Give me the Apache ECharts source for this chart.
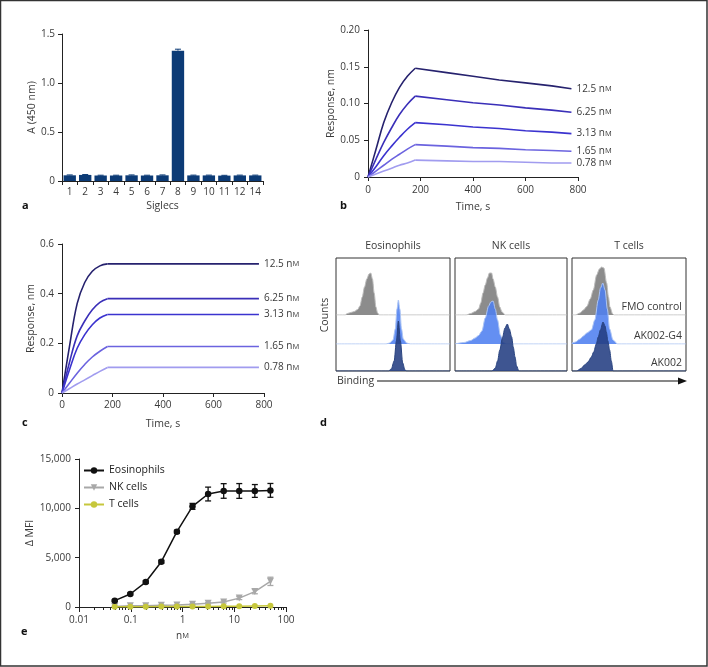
<!DOCTYPE html>
<html>
<head>
<meta charset="utf-8">
<script src="https://cdn.jsdelivr.net/npm/echarts@6/dist/echarts.min.js"></script>
<style>
html,body{margin:0;padding:0;background:#fff;}
#c{width:708px;height:667px;}
</style>
</head>
<body>
<div id="c"></div>
<script>
// ---------- DATA ----------
// Panel a
const siglecCats = ['1','2','3','4','5','6','7','8','9','10','11','12','14'];
const siglecVals = [0.058,0.062,0.056,0.056,0.058,0.056,0.058,1.33,0.057,0.057,0.055,0.057,0.057];
const siglecErr  = [0.004,0.004,0.003,0.003,0.004,0.003,0.004,0.015,0.003,0.003,0.003,0.003,0.003];

// Panel b (response, nm vs time, s)
const concLabels = ['12.5','6.25','3.13','1.65','0.78'];
const timeB = [0,30,60,90,120,150,180,300,400,500,600,700,775];
const respB125 = [0,0.037,0.074,0.101,0.122,0.137,0.148,0.142,0.137,0.132,0.128,0.124,0.120];
const respB625 = [0,0.024,0.047,0.067,0.085,0.099,0.110,0.105,0.101,0.098,0.094,0.091,0.088];
const respB313 = [0,0.014,0.029,0.042,0.054,0.065,0.074,0.071,0.068,0.066,0.063,0.061,0.059];
const respB165 = [0,0.008,0.016,0.024,0.031,0.038,0.044,0.042,0.040,0.039,0.037,0.036,0.035];
const respB078 = [0,0.004,0.008,0.012,0.016,0.019,0.023,0.022,0.021,0.021,0.020,0.019,0.019];

// Panel c
const timeC = [0,30,60,90,120,150,180,780];
const respC125 = [0,0.19,0.36,0.445,0.49,0.512,0.52,0.52];
const respC625 = [0,0.125,0.23,0.29,0.335,0.365,0.38,0.38];
const respC313 = [0,0.095,0.18,0.235,0.275,0.302,0.316,0.316];
const respC165 = [0,0.04,0.08,0.115,0.145,0.168,0.187,0.187];
const respC078 = [0,0.018,0.036,0.053,0.07,0.087,0.103,0.103];
const assocEnd = 180; // end of association phase, s

// Panel d histograms: [binding position (0-100), counts]
const histEosFMO = [[8,0],[10,1.5],[13,2.5],[16,3.5],[19,5.5],[21,9],[23,18],[25,28],[27,36],[29,41],[30.5,42],[32,36],[33.5,22],[35,8],[36.5,2],[38,0]];
const histEosG4  = [[44,0],[47,1],[50,4],[52,15],[53.5,35],[54.7,44],[56,35],[57.5,15],[59,5],[62,1],[65,0]];
const histEosAK  = [[46,0],[48.5,2],[51,10],[53,30],[54.7,50],[56.5,30],[58.5,8],[60.5,1],[62,0]];
const histNKFMO  = [[10,0],[14,1.5],[18,3.5],[21,6],[23,12],[25,22],[27,30],[29,37],[30.7,42],[32.7,42],[34,36],[36,28],[38,18],[40,8],[42,3],[45,0]];
const histNKG4   = [[0,0.5],[8,1.5],[14,3.5],[18,6],[21,8.5],[24,13],[27,26],[30,38],[32,42],[34,43],[36,35],[38,24],[40.5,9],[43,1.5],[46,0]];
const histNKAK   = [[33,0],[36,3],[38,10],[40,21],[42.5,34],[44.6,43],[46.7,47],[48.5,42],[50.6,34],[52,24],[53.6,14],[55,5],[57,0]];
const histTFMO   = [[3,0],[7,2],[10,5],[13,8.5],[16,16],[18.7,25],[21.6,40],[24,46],[26,48],[28,47],[30.4,32],[32,18],[33.3,8],[35.7,1],[37,0]];
const histTG4    = [[0,1],[3,2],[7,5],[10,8],[13,11],[17,14],[20,24],[23,44],[25,56],[27,61],[29,54],[31,35],[33,15],[36,4],[40,0]];
const histTAK    = [[4,0],[8,2.5],[11,6],[14,9],[17,14],[19,19],[21.3,27],[23,34],[24.9,41],[27.2,49],[29,45],[30.1,39],[31.5,30],[33,21],[34.5,10],[36,0]];
const cellTitles = ['Eosinophils','NK cells','T cells'];
const rowLabels = ['FMO control','AK002-G4','AK002'];

// Panel e
const concE = [0.049,0.098,0.195,0.39,0.78,1.56,3.125,6.25,12.5,25,50];
const mfiEos = [640,1320,2530,4590,7630,10200,11450,11760,11760,11760,11820];
const errEos = [80,100,120,150,150,300,700,740,750,650,700];
const mfiNK  = [60,120,130,170,200,270,370,500,900,1560,2600];
const errNK  = [30,30,40,40,50,60,80,100,150,220,420];
const mfiT   = [20,30,30,40,40,50,60,70,80,100,120];
const seriesNamesE = ['Eosinophils','NK cells','T cells'];
const logMajor = [0.01,0.1,1,10,100];
const logMinor = [];
[0.01,0.1,1,10].forEach(d => { for (let k=2;k<=9;k++) logMinor.push(+(d*k).toPrecision(3)); });

// ---------- STYLES ----------
const FONT = 'Open Sans';
const TXT = '#3a3a3a';
const AX = '#222';
const lineColors = ['#26226e','#3a2fb8','#3b33cf','#6b63df','#a19cef'];
const respB = [respB125,respB625,respB313,respB165,respB078];
const respC = [respC125,respC625,respC313,respC165,respC078];

function zip(xs, ys){ return xs.map((x,i)=>[x,ys[i]]); }

const axisLineS = {show:true, lineStyle:{color:AX, width:1}};
const axisTickS = {show:true, length:4, lineStyle:{color:AX, width:1}};
const axisLabelS = {fontSize:10, color:TXT, fontFamily:FONT};
const nameS = {fontSize:10.5, color:TXT, fontFamily:FONT};

const grid = [];
const xAxis = [];
const yAxis = [];
const series = [];

// Panel a
grid.push({left:62, top:34, width:201, height:147});
xAxis.push({gridIndex:0, type:'category', data:siglecCats, boundaryGap:true,
  axisLine:axisLineS, axisTick:{show:true,length:4,alignWithLabel:false,lineStyle:{color:AX}},
  axisLabel:Object.assign({margin:6, interval:0}, axisLabelS),
  name:'Siglecs', nameLocation:'middle', nameGap:20, nameTextStyle:nameS});
yAxis.push({gridIndex:0, type:'value', min:0, max:1.5, interval:0.5,
  axisLine:axisLineS, axisTick:axisTickS, splitLine:{show:false},
  axisLabel:Object.assign({margin:7, formatter:v=> v===0?'0':v.toFixed(1)}, axisLabelS),
  name:'A (450 nm)', nameLocation:'middle', nameGap:24, nameTextStyle:nameS});
series.push({type:'bar', xAxisIndex:0, yAxisIndex:0, data:siglecVals, barWidth:'80%',
  itemStyle:{color:'#0c3b76'}, silent:true});
series.push({type:'custom', xAxisIndex:0, yAxisIndex:0,
  data:siglecVals.map((v,i)=>[i, v, siglecErr[i]]),
  encode:{x:0,y:1}, z:5,
  renderItem:(p, api)=>{
    const i=api.value(0), v=api.value(1), e=api.value(2);
    const t=api.coord([i, v+e]), m=api.coord([i, v]);
    const hw=3;
    return {type:'group', children:[
      {type:'line', shape:{x1:t[0],y1:t[1],x2:m[0],y2:m[1]}, style:{stroke:'#0c3b76', lineWidth:1}},
      {type:'line', shape:{x1:t[0]-hw,y1:t[1],x2:t[0]+hw,y2:t[1]}, style:{stroke:'#0c3b76', lineWidth:1}}
    ]};
  }});

const endLabelS = (lbl)=>({show:true, distance:5,
  formatter:'{a|'+lbl+' n}{b|M}',
  rich:{a:{fontSize:10, color:TXT, fontFamily:FONT}, b:{fontSize:7.5, color:TXT, fontFamily:FONT}}});

// association (smooth) + dissociation (straight) segments
function kineticSeries(times, arr, k, xi, yi, tag){
  const pts = zip(times, arr);
  const assoc = pts.filter(p=>p[0]<=assocEnd);
  const dissoc = pts.filter(p=>p[0]>=assocEnd);
  series.push({type:'line', name:tag+'a'+k, xAxisIndex:xi, yAxisIndex:yi, data:assoc,
    smooth:0.4, symbol:'none', showSymbol:false,
    lineStyle:{color:lineColors[k], width:1.6}, itemStyle:{color:lineColors[k]}, silent:true, animation:false});
  series.push({type:'line', name:tag+'d'+k, xAxisIndex:xi, yAxisIndex:yi, data:dissoc,
    smooth:false, symbol:'none', showSymbol:false,
    lineStyle:{color:lineColors[k], width:1.6, join:'round'}, itemStyle:{color:lineColors[k]},
    endLabel:endLabelS(concLabels[k]), silent:true, animation:false});
}

// Panel b
grid.push({left:368, top:30, width:210, height:147});
xAxis.push({gridIndex:1, type:'value', min:0, max:800, interval:200,
  axisLine:axisLineS, axisTick:axisTickS, splitLine:{show:false},
  axisLabel:Object.assign({margin:8}, axisLabelS),
  name:'Time, s', nameLocation:'middle', nameGap:25, nameTextStyle:nameS});
yAxis.push({gridIndex:1, type:'value', min:0, max:0.2, interval:0.05,
  axisLine:axisLineS, axisTick:axisTickS, splitLine:{show:false},
  axisLabel:Object.assign({margin:8, formatter:v=> v===0?'0':v.toFixed(2)}, axisLabelS),
  name:'Response, nm', nameLocation:'middle', nameGap:24, nameTextStyle:nameS});
respB.forEach((arr, k)=> kineticSeries(timeB, arr, k, 1, 1, 'b'));

// Panel c
grid.push({left:62, top:244, width:202, height:149});
xAxis.push({gridIndex:2, type:'value', min:0, max:800, interval:200,
  axisLine:axisLineS, axisTick:axisTickS, splitLine:{show:false},
  axisLabel:Object.assign({margin:7}, axisLabelS),
  name:'Time, s', nameLocation:'middle', nameGap:26, nameTextStyle:nameS});
yAxis.push({gridIndex:2, type:'value', min:0, max:0.6, interval:0.2,
  axisLine:axisLineS, axisTick:axisTickS, splitLine:{show:false},
  axisLabel:Object.assign({margin:8, formatter:v=> v===0?'0':v.toFixed(1)}, axisLabelS),
  name:'Response, nm', nameLocation:'middle', nameGap:25, nameTextStyle:nameS});
respC.forEach((arr, k)=> kineticSeries(timeC, arr, k, 2, 2, 'c'));

// Panel e
grid.push({left:79, top:459, width:207, height:148});
xAxis.push({gridIndex:3, type:'log', logBase:10, min:0.01, max:100,
  axisLine:axisLineS, axisTick:{show:true,length:5,lineStyle:{color:AX},customValues:logMajor},
  splitLine:{show:false},
  axisLabel:Object.assign({margin:8, customValues:logMajor, formatter:v=>String(v)}, axisLabelS),
  name:'{a|n}{b|M}', nameLocation:'middle', nameGap:24,
  nameTextStyle:{rich:{a:{fontSize:10,color:TXT,fontFamily:FONT},b:{fontSize:7.5,color:TXT,fontFamily:FONT}}}});
xAxis.push({gridIndex:3, type:'log', logBase:10, min:0.01, max:100,
  axisLine:{show:false}, axisTick:{show:true,length:3,lineStyle:{color:AX},customValues:logMinor},
  axisLabel:{show:false}, splitLine:{show:false}, position:'bottom'});
yAxis.push({gridIndex:3, type:'value', min:0, max:15000, interval:5000,
  axisLine:axisLineS, axisTick:axisTickS, splitLine:{show:false},
  axisLabel:Object.assign({margin:8}, axisLabelS),
  name:'Δ MFI', nameLocation:'middle', nameGap:41, nameTextStyle:nameS});
const eX = 3, eY = 3;
function errRender(color){
  return (p, api)=>{
    const x=api.value(0), v=api.value(1), e=api.value(2);
    const t=api.coord([x, v+e]), b=api.coord([x, Math.max(v-e, 1)]);
    const hw=3;
    return {type:'group', children:[
      {type:'line', shape:{x1:t[0],y1:t[1],x2:b[0],y2:b[1]}, style:{stroke:color, lineWidth:1.3}},
      {type:'line', shape:{x1:t[0]-hw,y1:t[1],x2:t[0]+hw,y2:t[1]}, style:{stroke:color, lineWidth:1.3}},
      {type:'line', shape:{x1:b[0]-hw,y1:b[1],x2:b[0]+hw,y2:b[1]}, style:{stroke:color, lineWidth:1.3}}
    ]};
  };
}
series.push({type:'custom', name:'errNK', xAxisIndex:eX, yAxisIndex:eY, z:2,
  data:concE.map((c,i)=>[c, mfiNK[i], errNK[i]]), encode:{x:0,y:1},
  renderItem:errRender('#a8a8a8'), silent:true});
series.push({type:'line', name:seriesNamesE[1], xAxisIndex:eX, yAxisIndex:eY, z:3,
  data:zip(concE, mfiNK), symbol:'triangle', symbolRotate:180, symbolSize:7,
  lineStyle:{color:'#a8a8a8', width:1.5}, itemStyle:{color:'#a8a8a8'}, silent:true, animation:false});
series.push({type:'line', name:seriesNamesE[2], xAxisIndex:eX, yAxisIndex:eY, z:4,
  data:zip(concE, mfiT), symbol:'circle', symbolSize:6,
  lineStyle:{color:'#c6c73c', width:1.5}, itemStyle:{color:'#c6c73c'}, silent:true, animation:false});
series.push({type:'custom', name:'errEos', xAxisIndex:eX, yAxisIndex:eY, z:5,
  data:concE.map((c,i)=>[c, mfiEos[i], errEos[i]]), encode:{x:0,y:1},
  renderItem:errRender('#111'), silent:true});
series.push({type:'line', name:seriesNamesE[0], xAxisIndex:eX, yAxisIndex:eY, z:6,
  data:zip(concE, mfiEos), symbol:'circle', symbolSize:6.5,
  lineStyle:{color:'#111', width:1.5}, itemStyle:{color:'#111'}, silent:true, animation:false});

// Panel d
const boxLeft = [336, 455, 572];
const boxW = [114, 112, 114];
const boxTop = 258;
const rowBase = [315, 344, 371];
const hists = [[histEosFMO, histEosG4, histEosAK],[histNKFMO, histNKG4, histNKAK],[histTFMO, histTG4, histTAK]];
const histFill = ['rgba(128,128,128,0.9)','rgba(78,128,240,0.88)','rgba(35,62,130,0.88)'];
const histLine = ['#bdbdbd','#adc5f3','#2a447f'];
for (let b=0;b<3;b++){
  for (let r=0;r<3;r++){
    const gi = grid.length;
    const h = rowBase[r]-boxTop;
    const g = {left:boxLeft[b], top:boxTop, width:boxW[b], height:h};
    if (r===2){ g.show=true; g.borderColor='#333'; g.borderWidth=1; g.backgroundColor='transparent'; }
    grid.push(g);
    xAxis.push({gridIndex:gi, type:'value', min:0, max:100, show:false});
    yAxis.push({gridIndex:gi, type:'value', min:0, max:h, show:false});
    const xi = xAxis.length-1, yi = yAxis.length-1;
    const d = [[0,0]].concat(hists[b][r], [[100,0]]);
    series.push({type:'line', name:'h'+b+r, xAxisIndex:xi, yAxisIndex:yi, data:d,
      smooth:0.3, smoothMonotone:'x', symbol:'none', showSymbol:false, z:2+r,
      lineStyle:{color:histLine[r], width:1}, areaStyle:{color:histFill[r], opacity:1},
      silent:true, animation:false});
  }
}

// ---------- GRAPHICS ----------
const letter = (t,x,y)=>({type:'text', left:x, top:y, style:{text:t, font:'bold 11px "Open Sans"', fill:'#111'}});
const graphic = [
  {type:'rect', shape:{x:0.5,y:0.5,width:706.5,height:665.5}, style:{fill:'none', stroke:'#333', lineWidth:1.5}, z:-1},
  letter('a',22,200), letter('b',340,200), letter('c',22,417), letter('d',320,417), letter('e',21,626),
  {type:'text', x:325, y:315, rotation:Math.PI/2, style:{text:'Counts', font:'10.5px "Open Sans"', fill:TXT, align:'center', verticalAlign:'middle'}},
  {type:'text', x:337, y:381, style:{text:'Binding', font:'10.5px "Open Sans"', fill:TXT, align:'left', verticalAlign:'middle'}},
  {type:'line', shape:{x1:377,y1:381,x2:680,y2:381}, style:{stroke:'#111', lineWidth:1.2}},
  {type:'polygon', shape:{points:[[678,377.5],[687,381],[678,384.5]]}, style:{fill:'#111'}}
];
cellTitles.forEach((t,i)=>{
  graphic.push({type:'text', x:boxLeft[i]+boxW[i]/2, y:246, style:{text:t, font:'10.5px "Open Sans"', fill:TXT, align:'center', verticalAlign:'middle'}});
});
rowLabels.forEach((t,i)=>{
  graphic.push({type:'text', x:682, y:rowBase[i]-8, z:20, style:{text:t, font:'10.5px "Open Sans"', fill:TXT, align:'right', verticalAlign:'middle'}});
});

const chart = echarts.init(document.getElementById('c'), null, {renderer:'canvas'});
chart.setOption({
  animation:false,
  backgroundColor:'#fff',
  textStyle:{fontFamily:FONT},
  grid, xAxis, yAxis, series, graphic,
  legend:{left:83, top:465, padding:0, orient:'vertical', itemWidth:20, itemHeight:8, itemGap:6,
    data:seriesNamesE, textStyle:{fontSize:10.5, color:'#222', fontFamily:FONT}, selectedMode:false}
});
</script>
</body>
</html>
